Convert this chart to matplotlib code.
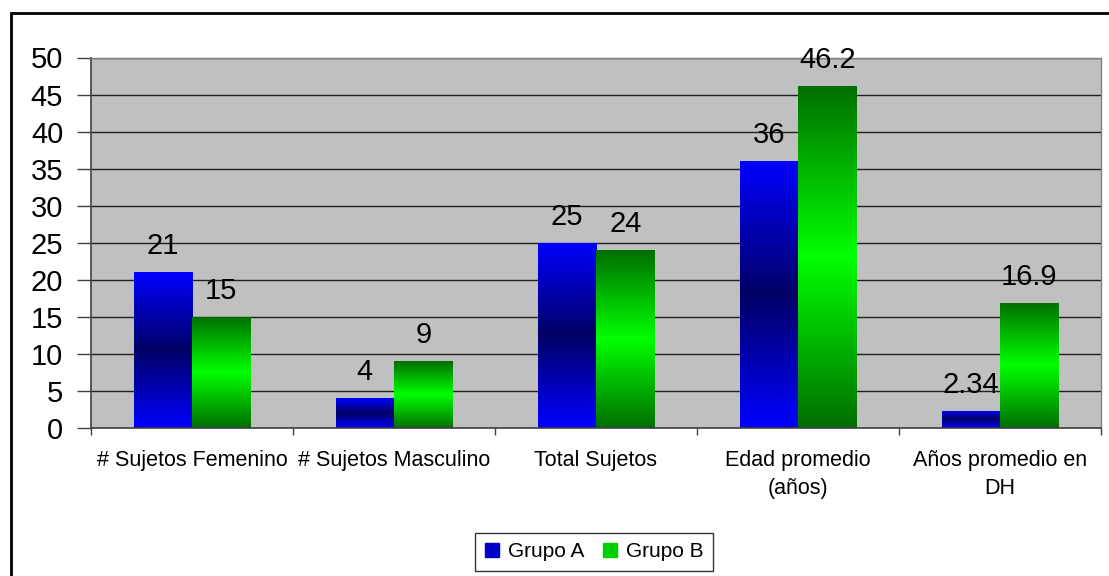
import numpy as np
import matplotlib
matplotlib.use("Agg")
import matplotlib.pyplot as plt
from matplotlib.colors import LinearSegmentedColormap
from matplotlib.patches import Rectangle, Patch

plt.rcParams['font.family'] = ['Liberation Sans', 'DejaVu Sans']

categories = ["# Sujetos Femenino", "# Sujetos Masculino", "Total Sujetos",
              "Edad promedio\n(años)", "Años promedio en\nDH"]
grupo_a = [21, 4, 25, 36, 2.34]
grupo_b = [15, 9, 24, 46.2, 16.9]
value_labels_a = ["21", "4", "25", "36", "2.34"]
value_labels_b = ["15", "9", "24", "46.2", "16.9"]
series_names = ["Grupo A", "Grupo B"]
y_ticks = list(range(0, 51, 5))

blue_cmap = LinearSegmentedColormap.from_list(
    "blue_band", ["#0000FF", "#000066", "#0000FF"])
green_cmap = LinearSegmentedColormap.from_list(
    "green_band", ["#006E00", "#00FF00", "#006E00"])

fig = plt.figure(figsize=(11.09, 5.76), dpi=100)
ax = fig.add_axes([91 / 1109, 1 - 428 / 576, 1010 / 1109, (428 - 57.5) / 576])
ax.set_facecolor("#C0C0C0")

x = np.arange(len(categories))
width = 0.289
grad = np.linspace(0, 1, 256).reshape(-1, 1)


def gradient_bars(xpos, values, cmap):
    bars = ax.bar(xpos, values, width, color=cmap(0.5), zorder=2, linewidth=0)
    for b in bars:
        x0, y0 = b.get_x(), b.get_y()
        w, h = b.get_width(), b.get_height()
        im = ax.imshow(grad, cmap=cmap, aspect="auto", origin="lower",
                       extent=(x0, x0 + w, y0, y0 + h), zorder=2.5,
                       interpolation="bilinear")
        im.set_clip_path(b)
    return bars


bars_a = gradient_bars(x - width / 2, grupo_a, blue_cmap)
bars_b = gradient_bars(x + width / 2, grupo_b, green_cmap)

for bars, labels in ((bars_a, value_labels_a), (bars_b, value_labels_b)):
    for b, lab in zip(bars, labels):
        ax.annotate(lab, (b.get_x() + b.get_width() / 2, b.get_height()),
                    xytext=(0, 13), textcoords="offset points",
                    ha="center", va="baseline", fontsize=21, zorder=5)

ax.set_xlim(-0.5, len(categories) - 0.5)
ax.set_ylim(0, 50)
ax.set_yticks(y_ticks)
ax.set_yticklabels([str(v) for v in y_ticks], fontsize=21)
ax.yaxis.grid(True, color="#202020", linewidth=1.0, zorder=1)
ax.set_axisbelow(True)

ax.set_xticks(np.arange(-0.5, len(categories), 1.0))
ax.set_xticklabels([])
ax.set_xticks(x, minor=True)
ax.set_xticklabels(categories, minor=True, fontsize=15.5, linespacing=1.45)
ax.tick_params(axis="x", which="major", length=5, width=1, color="#404040")
ax.tick_params(axis="x", which="minor", length=0, pad=16)
ax.tick_params(axis="y", length=10, width=1, color="#404040", pad=10)

for side in ("left", "bottom"):
    ax.spines[side].set_color("#404040")
    ax.spines[side].set_linewidth(1.2)
for side in ("top", "right"):
    ax.spines[side].set_color("#808080")
    ax.spines[side].set_linewidth(1.0)

# Outer chart frame
fig.patches.append(Rectangle((11 / 1109, -0.05), 1.2, 1 - 13 / 576 + 0.05,
                             transform=fig.transFigure, fill=False,
                             edgecolor="black", linewidth=2, zorder=0))

handles = [Patch(facecolor="#0000C8", edgecolor="#0000C8"),
           Patch(facecolor="#00D000", edgecolor="#00D000")]
leg = fig.legend(handles, series_names, loc="upper center",
                 bbox_to_anchor=(594 / 1109, 1 - 533 / 576), ncol=2,
                 fontsize=15, frameon=True, fancybox=False, edgecolor="black",
                 handlelength=0.7, handleheight=0.7, handletextpad=0.4,
                 columnspacing=0.9, borderpad=0.45, borderaxespad=0)
leg.get_frame().set_linewidth(1.0)

fig.savefig("out.png", dpi=100)
